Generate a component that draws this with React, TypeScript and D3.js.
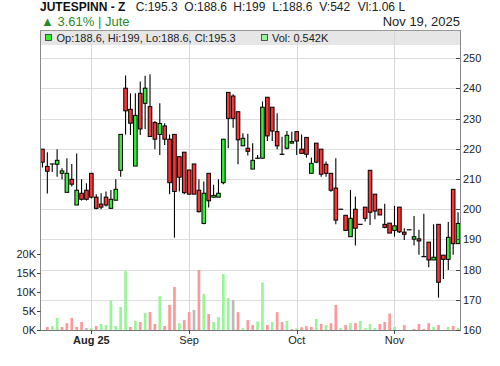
import React from "react";
import * as d3 from "d3";

// ---- data ----
const opens = [219.9,214.2,215.0,214.9,211.9,205.6,209.9,201.4,205.3,206.3,211.9,204.0,201.7,204.0,200.3,203.0,212.9,240.1,233.1,214.3,238.4,235.1,
  234.0,228.7,224.8,227.6,223.2,224.8,217.4,218.9,213.0,215.0,206.3,195.3,211.9,204.0,204.0,208.8,238.7,237.5,232.3,221.0,220.2,
  213.3,216.9,216.9,237.1,233.8,225.7,218.2,220.2,221.9,225.7,219.9,223.8,211.9,221.9,219.9,214.9,211.9,207.0,200.0,198.0,190.9,200.0,
  195.0,200.7,212.9,205.0,200.0,195.0,195.4,193.0,200.7,192.4,193.2,190.1,190.2,184.3,189.1,183.2,195.0,184.8,183.4,206.6,188.6];
const highs = [219.9,218.9,215.0,219.9,213.6,216.9,215.0,218.5,209.9,208.6,211.9,205.0,205.3,205.9,206.4,209.9,224.8,244.3,238.4,238.4,242.3,244.2,
  244.7,229.2,235.1,228.5,224.8,224.8,217.4,218.9,213.0,215.0,209.9,209.2,211.9,208.1,209.9,223.2,238.7,238.1,232.3,225.2,225.0,
  221.9,218.0,235.7,237.1,233.8,231.8,224.0,225.9,225.7,225.7,224.8,223.8,217.1,221.9,219.9,215.8,211.9,216.9,200.0,198.0,206.4,204.2,
  195.0,200.7,212.9,205.0,200.0,201.8,195.4,201.1,200.7,193.7,193.2,197.8,193.2,198.5,189.1,195.0,195.0,184.8,195.8,206.6,199.0];
const lows = [213.8,205.2,212.3,210.8,209.9,205.6,207.5,201.4,202.9,202.9,203.6,200.0,200.0,200.9,200.3,203.0,210.8,224.8,224.6,214.3,224.6,226.6,
  224.1,219.9,218.0,221.3,205.0,190.6,205.9,205.0,204.8,205.0,198.9,195.0,200.6,204.0,204.0,208.3,220.2,227.0,214.9,221.0,217.8,
  213.3,216.9,216.9,222.6,222.6,219.9,218.0,219.9,221.9,218.0,218.5,217.1,211.9,215.2,210.8,210.8,205.8,195.0,200.0,193.0,190.9,188.0,
  195.0,195.9,194.8,196.7,198.1,193.7,192.1,190.9,192.1,189.8,193.2,188.0,184.9,184.3,180.8,183.2,170.7,176.9,179.9,184.9,188.6];
const closes = [215.6,212.6,215.0,216.2,212.7,211.9,208.3,206.3,203.3,203.3,204.0,200.3,200.7,201.4,203.3,206.6,224.8,232.6,228.5,231.1,226.6,240.1,
  224.1,223.2,228.4,223.2,208.8,205.9,210.6,205.5,205.0,205.0,199.2,205.3,202.8,204.6,205.3,223.2,230.1,230.1,223.0,223.5,219.2,
  216.2,216.9,233.8,224.3,225.9,221.0,218.2,224.5,222.4,222.6,218.5,218.2,215.2,215.6,211.6,211.9,206.3,196.4,200.0,193.0,197.0,193.7,
  195.0,197.0,199.0,199.4,198.1,194.0,192.1,194.5,192.5,191.7,193.2,190.9,189.5,184.3,183.2,184.1,175.8,183.4,190.7,188.6,195.3];
const volumesK = [0,0.8,1.05,3.2,0.8,1.8,3.2,0.8,2.1,0.5,0.5,1.05,1.6,1.3,7.7,1.05,6.05,15.5,0.8,2.4,2.1,4.5,
  4.7,1.6,8.9,1.05,6.6,11.3,1.8,2.6,4.7,5.3,15.8,9.5,4.2,2.1,3.4,14.7,8.4,7.9,4.7,0.5,2.6,
  1.3,2.2,12.5,1.3,2.1,4.7,2.1,2.4,0.26,0.5,0.7,1.0,0.8,2.9,1.6,1.3,1.8,6.6,0.5,1.3,1.8,1.8,
  2.4,0.5,1.6,0.5,1.6,2.1,4.3,0.8,0,1.3,0,0.26,1.6,0.26,1.8,0.8,1.3,0,0.8,1.05,0.542];

const monthTickIndex = [10, 30, 52, 72];
const monthLabels = ["Aug 25", "Sep", "Oct", "Nov"];
const monthBold = [true, false, false, false];
const priceTicks = [160, 170, 180, 190, 200, 210, 220, 230, 240, 250];
const volTicks = [0, 5, 10, 15, 20];

const title = "JUTESPINN - Z";
const quoteItems = ["C:195.3", "O:188.6", "H:199", "L:188.6", "V:542", "Vl:1.06 L"];
const quoteX = [135.7, 184.3, 233.3, 272.3, 319.3, 357.7];
const changeText = "\u25B2 3.61% | Jute";
const dateText = "Nov 19, 2025";
const legendOHLC = "Op:188.6, Hi:199, Lo:188.6, Cl:195.3";
const legendVol = "Vol: 0.542K";

const FONT = "'Liberation Sans', Arial, Helvetica, sans-serif";
const RED = "#ff3333";
const GREEN = "#33ee33";
const VRED = "#ff9999";
const VGREEN = "#99f599";
const VGRAY = "#bbbbbb";

export default function App() {
  const n = closes.length;
  const L = 40, R = 460, T = 30, B = 330;
  const x = d3.scaleBand<number>().domain(d3.range(n)).range([L, R + 0.5]).padding(0);
  const bw = x.bandwidth();
  const cx = (i: number) => (x(i) as number) + bw / 2;
  const yP = d3.scaleLinear().domain([160, 250]).range([B, 58.3]);
  const yV = d3.scaleLinear().domain([0, 20]).range([B, 254]);
  const bodyW = 3.6;
  const volW = 2.7;

  return (
    <svg width={500} height={366} style={{ position: "absolute", left: 0, top: 0, background: "#fff" }} fontFamily={FONT}>
      {/* header */}
      <text x={40} y={10.5} fontSize={12} fontWeight="bold" fill="#111">{title}</text>
      {quoteItems.map((q, i) => (
        <text key={q} x={quoteX[i]} y={10.5} fontSize={12} fill="#222">{q}</text>
      ))}
      <text x={41} y={25.5} fontSize={13} fill="#2a8a2a">{changeText}</text>
      <text x={460} y={25.5} fontSize={13} fill="#222" textAnchor="end">{dateText}</text>

      {/* legend bar */}
      <rect x={L} y={T + 0.5} width={R - L} height={14.5} fill="#e6e6e6" />

      {/* grid */}
      {priceTicks.filter((p) => p > 160).map((p) => (
        <line key={"g" + p} x1={L} x2={R} y1={Math.round(yP(p)) + 0.5} y2={Math.round(yP(p)) + 0.5} stroke="#dddddd" />
      ))}
      {monthTickIndex.map((i) => (
        <line key={"mg" + i} x1={Math.round(cx(i)) + 0.5} x2={Math.round(cx(i)) + 0.5} y1={T + 0.5} y2={B} stroke="#d8d8d8" />
      ))}

      {/* legend content */}
      <rect x={45.5} y={34.5} width={6} height={6} fill={GREEN} stroke="#333" strokeWidth={0.8} />
      <text x={56.5} y={41.8} fontSize={11} fill="#222">{legendOHLC}</text>
      <rect x={261.5} y={34.5} width={6} height={6} fill={VGREEN} stroke="#333" strokeWidth={0.8} />
      <text x={272} y={41.8} fontSize={11} fill="#222">{legendVol}</text>

      {/* volume */}
      {volumesK.map((v, i) => {
        if (v <= 0) return null;
        const prev = i > 0 ? closes[i - 1] : closes[i];
        const col = closes[i] > prev ? VGREEN : closes[i] < prev ? VRED : VGRAY;
        return <rect key={"v" + i} x={cx(i) - volW / 2} y={yV(v)} width={volW} height={B - yV(v)} fill={col} />;
      })}

      {/* candles */}
      {closes.map((c, i) => {
        const o = opens[i];
        const X = cx(i);
        const up = c >= o;
        const top = yP(Math.max(o, c));
        const bot = yP(Math.min(o, c));
        return (
          <g key={"c" + i}>
            {highs[i] > lows[i] && (
              <line x1={X} x2={X} y1={yP(highs[i])} y2={yP(lows[i])} stroke="#000" strokeWidth={1.1} />
            )}
            {o === c ? (
              <line x1={X - 2.4} x2={X + 2.4} y1={top} y2={top} stroke="#000" strokeWidth={1.2} />
            ) : (
              <rect x={X - bodyW / 2} y={top} width={bodyW} height={Math.max(bot - top, 1)} fill={up ? GREEN : RED} stroke="#000" strokeWidth={1} />
            )}
          </g>
        );
      })}

      {/* frame */}
      <line x1={L + 0.5} x2={L + 0.5} y1={T} y2={B + 0.5} stroke="#888" />
      <line x1={R + 0.5} x2={R + 0.5} y1={T} y2={B + 0.5} stroke="#888" />
      <line x1={L} x2={R + 1} y1={T + 0.5} y2={T + 0.5} stroke="#999" />
      <line x1={L} x2={R + 1} y1={B + 0.5} y2={B + 0.5} stroke="#777" />

      {/* right price axis */}
      {priceTicks.map((p) => (
        <g key={"pt" + p}>
          <line x1={R - 4} x2={R} y1={Math.round(yP(p)) + 0.5} y2={Math.round(yP(p)) + 0.5} stroke="#444" />
          <text x={R + 3} y={yP(p) + 4} fontSize={11} fill="#222">{p}</text>
        </g>
      ))}

      {/* left volume axis */}
      {volTicks.map((v) => (
        <g key={"vt" + v}>
          <line x1={L - 3} x2={L + 0.5} y1={Math.round(yV(v)) + 0.5} y2={Math.round(yV(v)) + 0.5} stroke="#444" />
          <text x={L - 4} y={yV(v) + 4} fontSize={11} fill="#222" textAnchor="end">{v + "K"}</text>
        </g>
      ))}

      {/* bottom month axis */}
      {monthTickIndex.map((i, k) => (
        <g key={"mt" + i}>
          <line x1={Math.round(cx(i)) + 0.5} x2={Math.round(cx(i)) + 0.5} y1={B} y2={B + 4} stroke="#444" />
          <text x={cx(i)} y={344} fontSize={11} fill="#222" textAnchor="middle" fontWeight={monthBold[k] ? "bold" : "normal"}>
            {monthLabels[k]}
          </text>
        </g>
      ))}
    </svg>
  );
}
